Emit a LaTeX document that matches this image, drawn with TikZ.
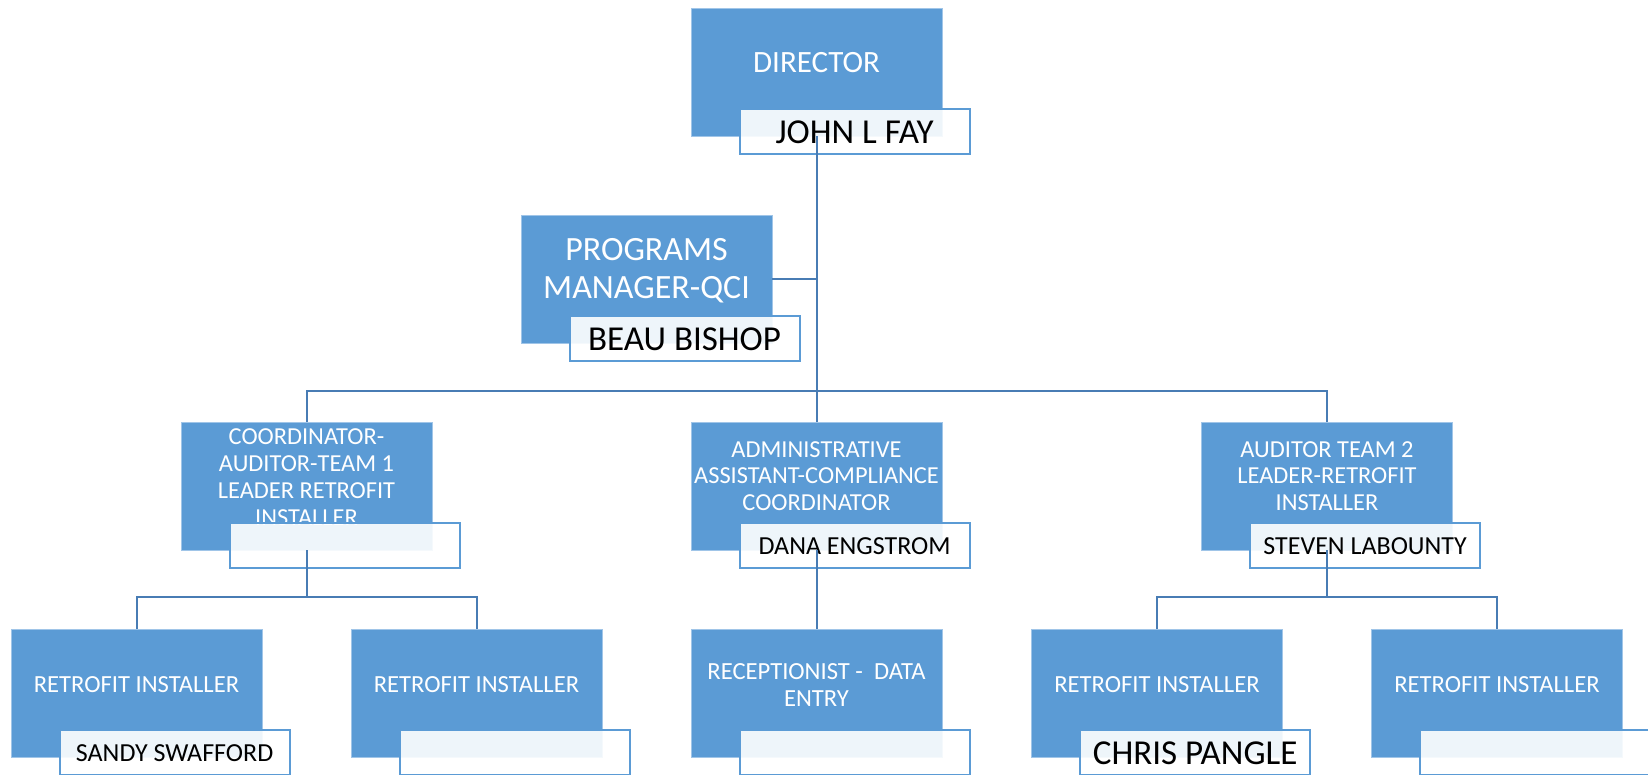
\documentclass[tikz,border=0pt]{standalone}
\usepackage{fontspec}
\setmainfont{Carlito}
\usetikzlibrary{positioning}
\definecolor{boxblue}{RGB}{91,155,213}
\definecolor{edgeblue}{RGB}{160,197,232}
\definecolor{lineblue}{RGB}{72,124,180}
\newcommand\fsdir{\fontsize{15.5}{18.6}\selectfont}
\newcommand\fsprog{\fontsize{17}{19}\selectfont}
\newcommand\fsname{\fontsize{17.5}{21}\selectfont}
\newcommand\fsmid{\fontsize{13}{15.6}\selectfont}
\newcommand\fssmall{\fontsize{12.2}{13.4}\selectfont}
\newcommand\fsinst{\fontsize{12.3}{13.3}\selectfont}
\tikzset{
    role/.style={fill=boxblue, draw=edgeblue, line width=0.4pt, minimum width=125.5pt, minimum height=64pt, inner sep=0pt},
    roletitle/.style={text=white, align=center, inner sep=0pt},
    person/.style={anchor=north west, draw=boxblue, line width=1pt, fill=white, fill opacity=0.9, text opacity=1, minimum width=115pt, minimum height=22.5pt, inner sep=0pt},
    link/.style={draw=lineblue, line width=1pt}
}

\begin{document}
\begin{tikzpicture}[x=0.5pt,y=-0.5pt]
  \useasboundingbox (0,0) rectangle (1648,775);
  % top
  \node[role] (dir) at (816.5,72) {};
  \node[roletitle, font=\fsdir] (dirt) at ([yshift=4.5pt]dir.center) {DIRECTOR};
  \node[person, font=\fsname] (dirp) at ([xshift=24pt,yshift=14pt]dir.south west) {JOHN L FAY};
  \node[role] (prog) at (646.5,279) {};
  \node[roletitle, font=\fsprog] (progt) at ([yshift=4pt]prog.center) {PROGRAMS\\MANAGER-QCI};
  \node[person, font=\fsname] (progp) at ([xshift=24pt,yshift=14pt]prog.south west) {BEAU BISHOP};
  % second row
  \node[role] (coord) at (306.5,486) {};
  \node[roletitle, font=\fssmall] (coordt) at ([yshift=4.5pt]coord.center) {COORDINATOR-\\AUDITOR-TEAM 1\\LEADER RETROFIT\\INSTALLER};
  \node[person] (coordp) at ([xshift=24pt,yshift=14pt]coord.south west) {};
  \node[role] (admin) at (816.5,486) {};
  \node[roletitle, font=\fssmall] (admint) at ([yshift=5pt]admin.center) {ADMINISTRATIVE\\ASSISTANT-COMPLIANCE\\COORDINATOR};
  \node[person, font=\fsmid] (adminp) at ([xshift=24pt,yshift=14pt]admin.south west) {DANA ENGSTROM};
  \node[role] (aud) at (1327,486) {};
  \node[roletitle, font=\fssmall] (audt) at ([yshift=5pt]aud.center) {AUDITOR TEAM 2\\LEADER-RETROFIT\\INSTALLER};
  \node[person, font=\fsmid] (audp) at ([xshift=24pt,yshift=14pt]aud.south west) {STEVEN LABOUNTY};
  % third row
  \node[role] (inst1) at (136.5,693) {};
  \node[roletitle, font=\fsinst] (inst1t) at ([yshift=4pt]inst1.center) {RETROFIT INSTALLER};
  \node[person, font=\fsmid] (inst1p) at ([xshift=24pt,yshift=14pt]inst1.south west) {SANDY SWAFFORD};
  \node[role] (inst2) at (476.5,693) {};
  \node[roletitle, font=\fsinst] (inst2t) at ([yshift=4pt]inst2.center) {RETROFIT INSTALLER};
  \node[person] (inst2p) at ([xshift=24pt,yshift=14pt]inst2.south west) {};
  \node[role] (recep) at (816.5,693) {};
  \node[roletitle, font=\fsinst] (recept) at ([yshift=4pt]recep.center) {RECEPTIONIST -\ \ DATA\\ENTRY};
  \node[person] (recepp) at ([xshift=24pt,yshift=14pt]recep.south west) {};
  \node[role] (inst3) at (1157,693) {};
  \node[roletitle, font=\fsinst] (inst3t) at ([yshift=4pt]inst3.center) {RETROFIT INSTALLER};
  \node[person, font=\fsname] (inst3p) at ([xshift=24pt,yshift=14pt]inst3.south west) {CHRIS PANGLE};
  \node[role] (inst4) at (1497,693) {};
  \node[roletitle, font=\fsinst] (inst4t) at ([yshift=4pt]inst4.center) {RETROFIT INSTALLER};
  \node[person] (inst4p) at ([xshift=24pt,yshift=14pt]inst4.south west) {};
  % connectors
  \coordinate (bus1) at (816.5,391);
  \coordinate (bus2) at (306.5,597);
  \coordinate (bus3) at (1327,597);
  \draw[link] (dir.south) -- (admin.north);
  \draw[link] (prog.east) -- (prog.east -| dir.south);
  \draw[link] (coord.north) |- (bus1) -| (aud.north);
  \draw[link] (coord.south) -- (bus2);
  \draw[link] (inst1.north) |- (bus2) -| (inst2.north);
  \draw[link] (admin.south) -- (recep.north);
  \draw[link] (aud.south) -- (bus3);
  \draw[link] (inst3.north) |- (bus3) -| (inst4.north);
\end{tikzpicture}
\end{document}
